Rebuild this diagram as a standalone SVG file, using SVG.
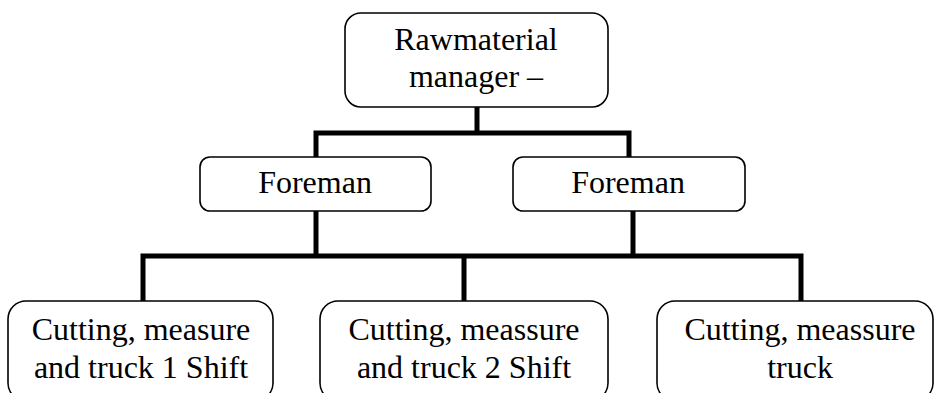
<svg xmlns="http://www.w3.org/2000/svg" width="934" height="393" viewBox="0 0 934 393">
  <style>
    .box { fill: #ffffff; stroke: #000000; stroke-width: 1.6; }
    .lbl { font-family: "Liberation Serif", "Times New Roman", serif; font-size: 32px; fill: #000000; text-anchor: middle; }
    .link { fill: none; stroke: #000000; stroke-width: 5; stroke-linecap: butt; stroke-linejoin: miter; }
  </style>
  <rect width="934" height="393" fill="#ffffff"/>

  <!-- connectors -->
  <g id="connectors">
    <path class="link" d="M477 107 V133 M316 157 V133 H629 V157"/>
    <path class="link" d="M316 211 V256 M633 211 V256 M143 301 V256 H801 V301 M464 256 V301"/>
  </g>

  <g id="manager">
    <rect class="box" x="345" y="13" width="263" height="94" rx="16"/>
    <text class="lbl" x="476" y="50">Rawmaterial</text>
    <text class="lbl" x="476" y="87">manager –</text>
  </g>

  <g id="foreman-left">
    <rect class="box" x="200" y="157" width="231" height="54" rx="10"/>
    <text class="lbl" x="315" y="193">Foreman</text>
  </g>

  <g id="foreman-right">
    <rect class="box" x="513" y="157" width="232" height="54" rx="10"/>
    <text class="lbl" x="628" y="193">Foreman</text>
  </g>

  <g id="crew-shift1">
    <rect class="box" x="8" y="301" width="265" height="100" rx="18"/>
    <text class="lbl" x="141" y="340">Cutting, measure</text>
    <text class="lbl" x="141" y="378">and truck 1 Shift</text>
  </g>

  <g id="crew-shift2">
    <rect class="box" x="320" y="301" width="288" height="100" rx="18"/>
    <text class="lbl" x="464" y="340">Cutting, meassure</text>
    <text class="lbl" x="464" y="378">and truck 2 Shift</text>
  </g>

  <g id="crew-truck">
    <rect class="box" x="657" y="301" width="276" height="100" rx="18"/>
    <text class="lbl" x="800" y="340">Cutting, meassure</text>
    <text class="lbl" x="800" y="378">truck</text>
  </g>
</svg>
